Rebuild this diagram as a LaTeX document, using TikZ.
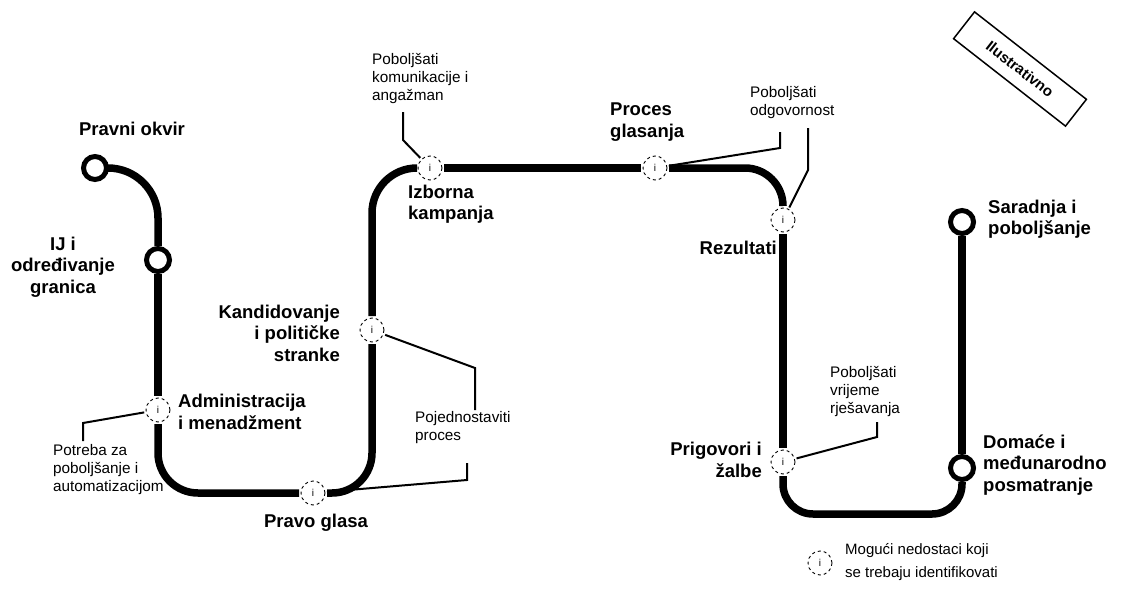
\documentclass[tikz,border=0pt]{standalone}
\usepackage{fontspec}
\setmainfont{Liberation Sans}
\begin{document}
\begin{tikzpicture}[x=1pt,y=-1pt,
  track/.style={line width=7.5pt},
  stn/.style={circle, draw, line width=5pt, fill=white, minimum size=23pt, inner sep=0pt},
  gap/.style={circle, draw, line width=0.9pt, dash pattern=on 3pt off 3pt, minimum size=24pt, inner sep=0pt, outer sep=2pt, font=\fontsize{10}{10}\selectfont},
  callout/.style={line width=2pt},
  lbl/.style={font=\fontsize{18.5}{21.5}\selectfont\bfseries, inner sep=0pt},
  note/.style={font=\fontsize{15.3}{18}\selectfont, inner sep=0pt}]
\useasboundingbox (0,0) rectangle (1126,602);

% stations
\node[stn] (s1) at (95,168) {};
\node[stn] (s2) at (158,260) {};
\node[gap] (g1) at (158,410) {i};
\node[gap] (g2) at (313,493) {i};
\node[gap] (g3) at (372,330) {i};
\node[gap] (g4) at (430,168) {i};
\node[gap] (g5) at (655,168) {i};
\node[gap] (g6) at (783,220) {i};
\node[gap] (g7) at (783,462) {i};
\node[stn] (s3) at (962,468) {};
\node[stn] (s4) at (962,222) {};
\coordinate (ub) at (870,514);

% track
\draw[track, rounded corners=50pt] (s1) -| (s2);
\draw[track] (s2) -- (g1);
\draw[track, rounded corners=40pt] (g1) |- (g2);
\draw[track, rounded corners=40pt] (g2) -| (g3);
\draw[track, rounded corners=45pt] (g3) |- (g4);
\draw[track] (g4) -- (g5);
\draw[track, rounded corners=38pt] (g5) -| (g6);
\draw[track] (g6) -- (g7);
\draw[track, rounded corners=30pt] (g7) |- (ub) -| (s3);
\draw[track] (s3) -- (s4);

% labels
\node[lbl] (l1) at (132,129) {Pravni okvir};
\node[lbl, align=center] (l2) at (63,267) {IJ i\\određivanje\\granica};
\node[lbl, anchor=west, align=left] (l3) at (178,412) {Administracija\\i menadžment};
\node[lbl] (l4) at (316,523) {Pravo glasa};
\node[lbl, anchor=east, align=right] (l5) at (340,333) {Kandidovanje\\i političke\\stranke};
\node[lbl, anchor=west, align=left] (l6) at (408,204) {Izborna\\kampanja};
\node[lbl, anchor=west, align=left] (l7) at (610,122) {Proces\\glasanja};
\node[lbl, anchor=east] (l8) at (777,248) {Rezultati};
\node[lbl, anchor=west, align=left] (l9) at (988,219) {Saradnja i\\poboljšanje};
\node[lbl, anchor=west, align=left] (l10) at (983,465) {Domaće i\\međunarodno\\posmatranje};
\node[lbl, anchor=east, align=right] (l11) at (762,460) {Prigovori i\\žalbe};

% callout notes
\node[note, anchor=north west, align=left] (c1) at (53,444) {Potreba za\\poboljšanje i\\automatizacijom};
\node[note, anchor=west, align=left] (c2) at (415,428) {Pojednostaviti\\proces};
\node[note, anchor=north west, align=left] (c3) at (372,53) {Poboljšati\\komunikacije i\\angažman};
\node[note, anchor=north west, align=left] (c4) at (750,86) {Poboljšati\\odgovornost};
\node[note, anchor=north west, align=left] (c5) at (830,366) {Poboljšati\\vrijeme\\rješavanja};

% callout connectors
\coordinate (k1) at (83,423);
\coordinate (k1e) at (83,441);
\draw[callout] (g1) -- (k1) -- (k1e);
\coordinate (k2) at (475,368);
\coordinate (k2e) at (475,410);
\draw[callout] (g3) -- (k2) -- (k2e);
\coordinate (k3) at (467,480);
\coordinate (k3e) at (467,463);
\draw[callout] (g2) -- (k3) -- (k3e);
\coordinate (k4s) at (403,112);
\coordinate (k4) at (403,140);
\draw[callout] (k4s) -- (k4) -- (g4);
\coordinate (k5) at (780,148);
\coordinate (k5e) at (780,132);
\draw[callout] (g5) -- (k5) -- (k5e);
\coordinate (k6s) at (808,128);
\coordinate (k6) at (808,170);
\draw[callout] (k6s) -- (k6) -- (g6);
\coordinate (k7s) at (877,422);
\coordinate (k7) at (877,437);
\draw[callout] (k7s) -- (k7) -- (g7);

% illustrative stamp
\node[draw, line width=1.5pt, rotate=-38, minimum width=142pt, minimum height=34pt,
      font=\fontsize{15}{15}\selectfont\bfseries] (ill) at (1020,69) {Ilustrativno};

% legend
\node[gap] (lg) at (820,563) {i};
\node[note, anchor=west, align=left, font=\fontsize{15}{23}\selectfont] (lt) at (845,562) {Mogući nedostaci koji\\se trebaju identifikovati};
\end{tikzpicture}
\end{document}
